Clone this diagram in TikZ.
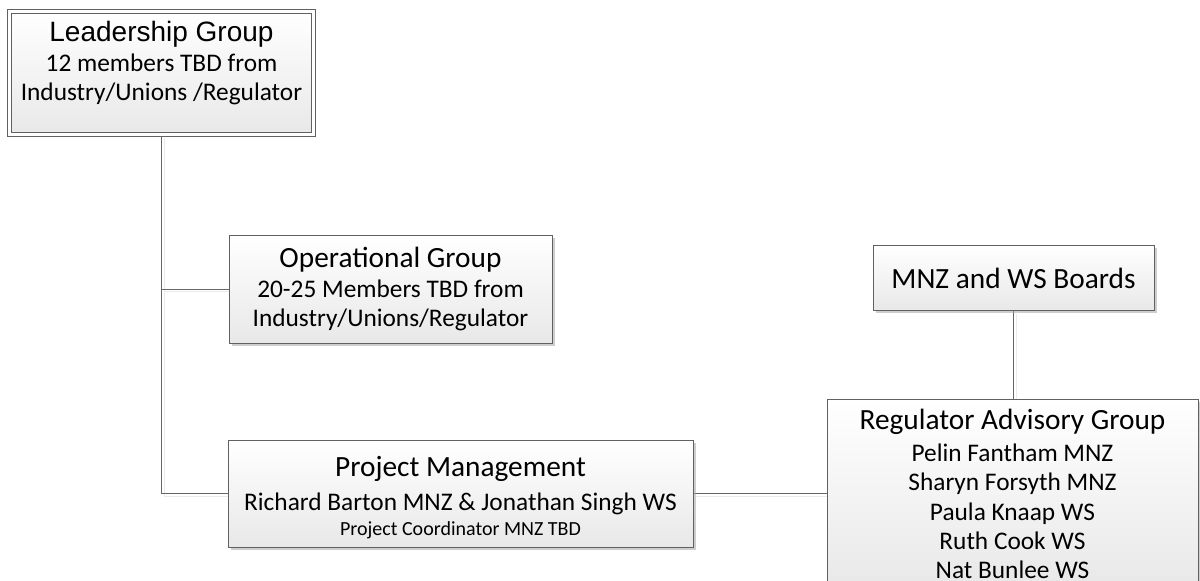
\documentclass[tikz,border=0pt]{standalone}
\usepackage{fontspec}
\setmainfont{Carlito}
\newfontfamily\arialfont{Liberation Sans}
\usetikzlibrary{shadows,backgrounds}
\tikzset{
  box/.style={draw=black!62, line width=0.7pt, top color=white, bottom color=black!9,
    align=center, inner sep=0pt, font=\fontsize{19}{22}\selectfont,
    drop shadow={shadow xshift=2.2pt, shadow yshift=-2.2pt, fill=black!35, opacity=0.55}},
  leadbox/.style={box, double=white, double distance=2.2pt},
  link/.style={draw=black!60, line width=0.75pt,
    preaction={draw=black!8, line width=0.75pt, transform canvas={shift={(2.2pt,-2.2pt)}}}},
}
\newcommand{\titolo}[1]{{\fontsize{22}{26}\selectfont #1}}
\begin{document}
\begin{tikzpicture}[x=0.75pt, y=-0.75pt]
  \useasboundingbox (0,0) rectangle (1200,581);
  %riquadri
  \node[leadbox, minimum width=228pt, minimum height=92.25pt] (lead) at (161.5, 73)
    {{\arialfont\fontsize{21}{25}\selectfont Leadership Group}\\ 12 members TBD from\\ Industry/Unions /Regulator\\[-4pt] \mbox{}};
  \node[box, minimum width=242.25pt, minimum height=81pt] (op) at (390.5, 289)
    {\titolo{Operational Group}\\ 20-25 Members TBD from\\ Industry/Unions/Regulator};
  \node[box, minimum width=348.75pt, minimum height=80.25pt] (pm) at (460.5, 493.5)
    {\titolo{Project Management}\\[3pt] Richard Barton MNZ \& Jonathan Singh WS\\[-3pt] {\fontsize{15}{18}\selectfont Project Coordinator MNZ TBD}\\[-26pt] \mbox{}};
  \node[box, minimum width=210.75pt, minimum height=48.75pt] (boards) at (1013.5, 278)
    {\titolo{MNZ and WS Boards}};
  \node[box, minimum width=278.25pt, minimum height=142.5pt] (rag) at (1012.5, 494)
    {\titolo{Regulator Advisory Group}\\[2pt] Pelin Fantham MNZ\\ Sharyn Forsyth MNZ\\ Paula Knaap WS\\ Ruth Cook WS\\ Nat Bunlee WS};
  %collegamenti
  \begin{scope}[on background layer]
    \fill[white] (0,0) rectangle (1200,581);
    \draw[link] (lead.south) |- (pm.west);
    \draw[link] (lead.south |- op.west) -- (op.west);
    \draw[link] (pm.east) -- (pm.east -| rag.west);
    \draw[link] (boards.south) -- (boards.south |- rag.north);
  \end{scope}
\end{tikzpicture}
\end{document}
